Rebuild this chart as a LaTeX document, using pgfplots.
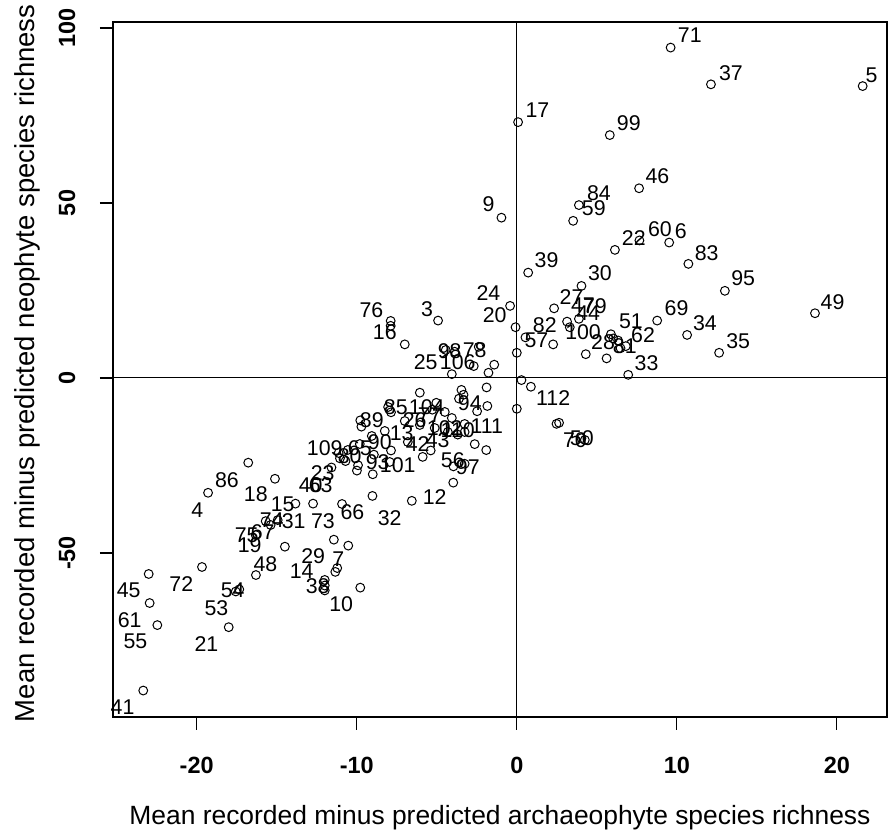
\documentclass[border=0pt]{standalone}
\usepackage{pgfplots}
\usepackage{pgfplotstable}
\pgfplotsset{compat=1.18}
\usepackage{fontspec}
\setmainfont{Liberation Sans}

\pgfplotstableread{
x y
-23.00 -56.0
-22.94 -64.3
-22.46 -70.6
-23.34 -89.3
-19.67 -54.0
-18.00 -71.2
-17.56 -61.0
-17.34 -60.4
-16.30 -56.3
-14.49 -48.2
-16.78 -24.2
-19.29 -32.8
-15.11 -28.8
-13.83 -35.9
-12.73 -35.9
-15.69 -40.9
-15.38 -42.0
-14.94 -40.6
-16.31 -44.9
-11.43 -46.2
-10.53 -47.9
-11.22 -54.3
-11.34 -55.4
-12.00 -57.7
-12.00 -59.3
-12.00 -60.7
-9.78 -59.9
-10.92 -36.0
-9.02 -33.7
-6.56 -35.1
-3.97 -29.9
9.61 94.4
12.13 83.9
21.61 83.4
0.08 73.1
5.81 69.4
7.64 54.2
3.88 49.4
3.52 44.9
-0.96 45.8
9.52 38.7
7.66 39.3
6.13 36.6
10.72 32.6
13.00 24.9
18.63 18.5
10.64 12.3
12.64 7.2
0.71 30.1
4.04 26.3
2.33 19.9
3.14 16.1
3.88 16.9
3.31 14.5
-0.42 20.6
-0.08 14.5
0.54 11.6
2.27 9.6
0.00 7.2
4.31 6.8
5.61 5.6
5.88 12.5
6.02 11.3
6.33 10.7
6.48 8.5
6.81 9.1
8.77 16.4
6.96 0.9
0.29 -0.6
0.88 -2.5
0.00 -8.8
2.48 -13.1
2.64 -12.8
4.04 -17.2
4.25 -17.7
-7.88 16.3
-7.88 14.9
-4.92 16.4
-7.00 9.6
-4.44 8.0
-3.88 7.5
-2.38 8.9
-2.69 3.4
-1.41 3.8
-1.77 1.5
-4.06 1.1
-1.89 -2.7
-6.06 -4.2
-3.46 -3.4
-3.61 -5.9
-3.33 -4.8
-1.84 -8.0
-2.48 -9.5
-8.04 -8.3
-7.86 -9.8
-2.63 -18.9
-1.91 -20.6
-9.78 -12.1
-9.71 -13.9
-5.03 -7.09
-5.28 -9.06
-4.50 -9.71
-4.06 -11.43
-3.26 -13.14
-3.26 -15.43
-3.69 -16.17
-4.31 -15.43
-5.13 -14.29
-6.06 -13.43
-7.00 -12.29
-8.25 -15.14
-9.06 -16.57
-9.81 -18.86
-10.56 -20.57
-11.13 -21.43
-11.05 -22.97
-10.70 -23.74
-9.92 -24.94
-9.99 -26.46
-9.00 -27.51
-8.93 -21.91
-7.86 -20.71
-6.81 -18.29
-5.88 -22.54
-5.38 -20.71
-3.96 -25.26
-3.26 -24.51
-11.58 -25.57
-7.94 -24.00
}\pts

\pgfplotstableread{
x y lab
-24.25 -60.57 45
-24.19 -69.14 61
-23.83 -75.14 55
-24.63 -94.00 41
-20.96 -58.94 72
-19.39 -76.09 21
-18.77 -65.63 53
-17.75 -60.57 54
-15.71 -53.14 48
-16.69 -47.71 19
-16.88 -44.86 75
-15.88 -44.00 67
-18.11 -29.14 86
-19.96 -37.71 4
-16.31 -33.14 18
-14.63 -36.00 15
-15.31 -40.57 74
-13.94 -40.86 31
-12.11 -40.86 73
-12.88 -30.57 40
-12.25 -30.57 63
-12.13 -27.14 23
-12.00 -20.00 109
-10.27 -38.37 66
-7.94 -40.09 32
-5.13 -34.00 12
-12.72 -51.00 29
-11.16 -51.86 7
-13.44 -55.14 14
-12.44 -59.43 38
-10.97 -64.71 10
10.81 98.00 71
13.38 87.06 37
22.17 86.57 5
1.29 76.57 17
7.00 72.94 99
8.79 57.71 46
5.13 52.94 84
4.81 48.49 59
-1.77 49.71 9
8.94 42.57 60
10.25 42.00 6
7.31 39.86 22
11.86 35.80 83
14.14 28.49 95
19.73 21.80 49
11.75 15.80 34
13.83 10.66 35
9.98 19.91 69
1.86 33.71 39
5.19 29.91 30
3.42 23.23 27
4.13 20.86 47
4.88 20.57 79
4.46 18.49 44
1.75 15.14 82
1.23 10.86 57
4.14 13.23 100
7.13 16.09 51
7.89 12.29 62
5.39 10.37 28
6.75 9.14 81
8.11 4.20 33
-1.77 24.29 24
-1.38 17.89 20
-9.08 19.43 76
-5.61 19.63 3
-8.25 13.23 16
-5.69 4.66 25
-3.69 4.57 106
-4.19 7.71 98
-2.63 8.00 78
2.27 -5.80 112
3.63 -17.71 70
4.06 -17.14 50
-7.56 -8.29 85
-5.63 -8.29 104
-2.94 -7.14 94
-1.88 -13.71 111
-9.06 -12.00 89
-7.44 -24.86 101
-4.00 -23.43 56
-3.06 -25.43 97
-6.38 -12.00 26
-7.19 -15.71 13
-6.19 -18.86 42
-4.94 -17.71 43
-8.56 -18.29 90
-9.81 -20.00 65
-8.69 -24.00 93
-4.50 -14.29 102
-3.69 -14.86 110
-5.44 -10.57 77
-10.44 -22.29 80
}\labs

\begin{document}
\begin{tikzpicture}
\begin{axis}[
  scale only axis,
  width=580.5pt, height=521.25pt,
  xmin=-25.23, xmax=23.13,
  ymin=-96.86, ymax=101.71,
  axis line style={line width=0.8pt},
  tick style={line width=0.8pt, black},
  tick align=outside,
  major tick length=9.75pt,
  xtick={-20,-10,0,10,20},
  xticklabels={-20,-10,0,10,20},
  ytick={-50,0,50,100},
  yticklabels={-50,0,50,100},
  xtick pos=lower, ytick pos=left,
  ticklabel style={font=\fontsize{17.6}{20}\selectfont\bfseries},
  xticklabel style={anchor=base, yshift=-33pt},
  yticklabel style={rotate=90, anchor=south, yshift=15pt},
  xlabel={Mean recorded minus predicted archaeophyte species richness},
  ylabel={Mean recorded minus predicted neophyte species richness},
  xlabel style={font=\fontsize{19.8}{24}\selectfont, at={(axis description cs:0.5,-0.1554)}, anchor=base},
  ylabel style={font=\fontsize{20.6}{24}\selectfont, at={(axis description cs:-0.1008,0.509)}, anchor=base, rotate=0},
  clip=true,
]
\addplot[black, line width=0.75pt, forget plot] coordinates {(0,-120) (0,120)};
\addplot[black, line width=0.75pt, forget plot] coordinates {(-30,0) (30,0)};
\addplot[only marks, mark=o, mark size=3.3pt, mark options={line width=0.75pt, black}] table[x=x, y=y] {\pts};
\addplot[draw=none, mark=none, nodes near coords, point meta=explicit symbolic,
  nodes near coords align=center,
  every node near coord/.append style={font=\fontsize{16}{18}\selectfont, inner sep=0pt, anchor=center, text=black}]
  table[x=x, y=y, meta=lab] {\labs};
\end{axis}
\pgfresetboundingbox
\path[use as bounding box] ([shift={(-84.75pt,-85.5pt)}]current axis.south west) rectangle ([shift={(1.5pt,16.5pt)}]current axis.north east);
\end{tikzpicture}
\end{document}
